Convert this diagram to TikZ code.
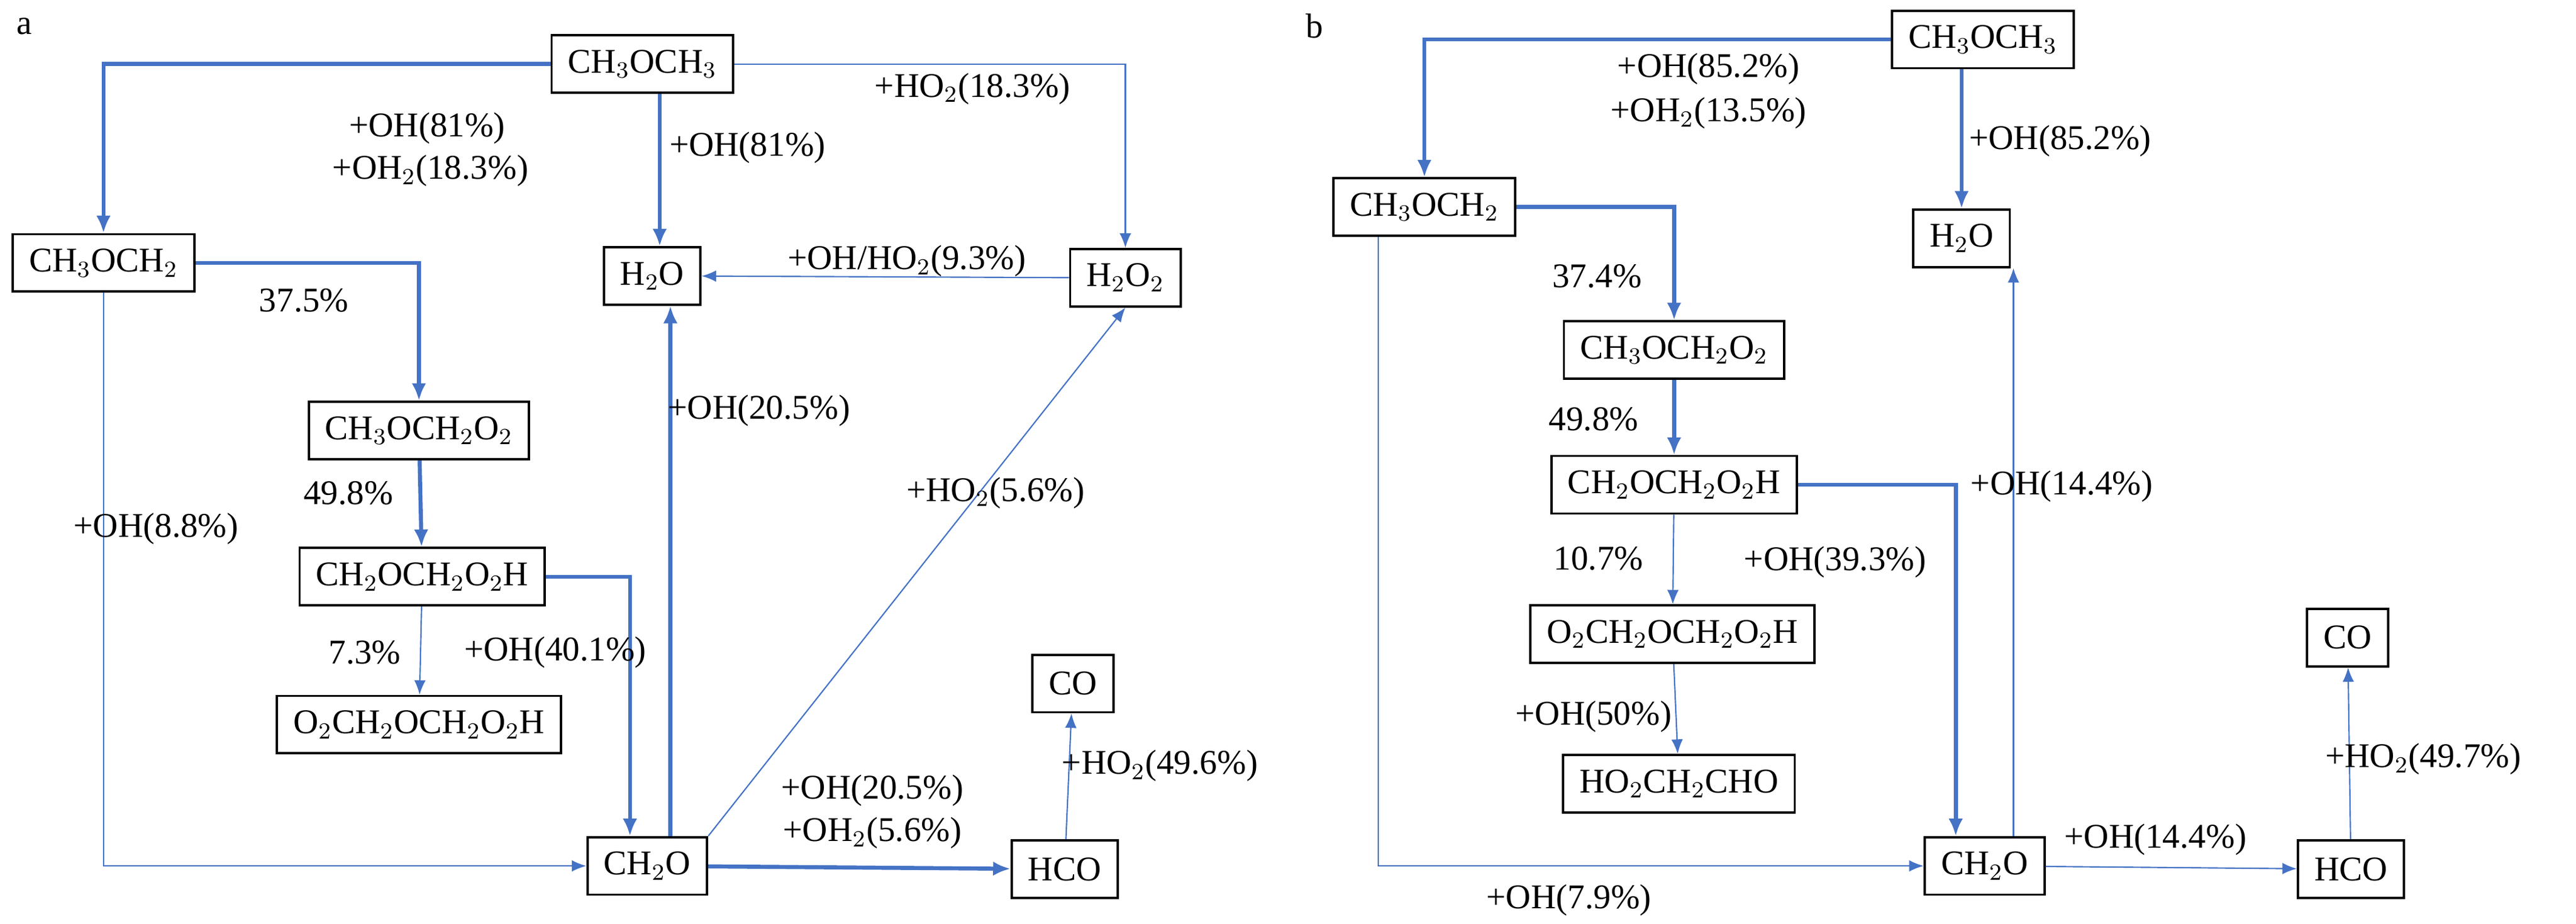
\documentclass[tikz,border=0pt]{standalone}
\usepackage{fontspec}
\setmainfont{Liberation Serif}
\usetikzlibrary{arrows.meta}
\definecolor{flow}{RGB}{68,114,196}
\tikzset{
  sp/.style={draw,thick,minimum height=0.7cm,inner xsep=0.2cm,font=\fontsize{12}{14}\selectfont},
  lab/.style={font=\fontsize{12}{14}\selectfont},
  major/.style={draw=flow,line width=1.4pt,-{Latex[length=6pt,width=5pt]}},
  minor/.style={draw=flow,line width=0.45pt,-{Latex[length=5pt,width=4pt]}}
}
\begin{document}
\begin{tikzpicture}[x=0.02cm,y=-0.02cm]
\useasboundingbox (0,0) rectangle (1568,562);
% panel a
\node[lab] at (15,16) {a};
\node[sp] (a1) at (391,39) {CH$_3$OCH$_3$};
\node[sp] (a2) at (63,160) {CH$_3$OCH$_2$};
\node[sp] (a3) at (397,168) {H$_2$O};
\node[sp] (a4) at (685,169) {H$_2$O$_2$};
\node[sp] (a5) at (255,262) {CH$_3$OCH$_2$O$_2$};
\node[sp] (a6) at (257,351) {CH$_2$OCH$_2$O$_2$H};
\node[sp] (a7) at (255,441) {O$_2$CH$_2$OCH$_2$O$_2$H};
\node[sp] (a8) at (653,416) {CO};
\node[sp] (a9) at (394,527) {CH$_2$O};
\node[sp] (a10) at (648,529) {HCO};
\draw[major] (a1.west) -| (a2.north);
\node[lab] at (260,78) {+OH(81\%)};
\node[lab] at (262,104) {+OH$_2$(18.3\%)};
\draw[minor] (a1.east) -| (a4.north);
\node[lab] at (592,54) {+HO$_2$(18.3\%)};
\draw[major] ([xshift=6pt]a1.south) -- ([xshift=6pt]a1.south |- a3.north);
\node[lab] at (455,90) {+OH(81\%)};
\draw[minor] (a4.west) -- (a3.east);
\node[lab] at (552,159) {+OH/HO$_2$(9.3\%)};
\draw[major] (a2.east) -| (a5.north);
\node[lab] at (185,183) {37.5\%};
\draw[minor] (a2.south) |- (a9.west);
\node[lab] at (95,322) {+OH(8.8\%)};
\draw[major] (a5) -- (a6);
\node[lab] at (212,300) {49.8\%};
\draw[major] (a6.east) -| ([xshift=-6pt]a9.north);
\node[lab] at (338,397) {+OH(40.1\%)};
\draw[minor] (a6) -- (a7);
\node[lab] at (222,397) {7.3\%};
\draw[major] ([xshift=8pt]a9.north) -- ([xshift=8pt]a9.north |- a3.south);
\node[lab] at (462,250) {+OH(20.5\%)};
\draw[minor] (a9.north east) -- (a4.south);
\node[lab] at (606,300) {+HO$_2$(5.6\%)};
\draw[major] (a9) -- (a10);
\node[lab] at (531,481) {+OH(20.5\%)};
\node[lab] at (531,507) {+OH$_2$(5.6\%)};
\draw[minor] (a10) -- (a8);
\node[lab] at (706,466) {+HO$_2$(49.6\%)};
% panel b
\node[lab] at (800,16) {b};
\node[sp] (b1) at (1207,24) {CH$_3$OCH$_3$};
\node[sp] (b2) at (867,126) {CH$_3$OCH$_2$};
\node[sp] (b3) at (1194,145) {H$_2$O};
\node[sp] (b4) at (1019,213) {CH$_3$OCH$_2$O$_2$};
\node[sp] (b5) at (1019,295) {CH$_2$OCH$_2$O$_2$H};
\node[sp] (b6) at (1018,386) {O$_2$CH$_2$OCH$_2$O$_2$H};
\node[sp] (b7) at (1022,477) {HO$_2$CH$_2$CHO};
\node[sp] (b8) at (1429,388) {CO};
\node[sp] (b9) at (1208,527) {CH$_2$O};
\node[sp] (b10) at (1431,529) {HCO};
\draw[major] (b1.west) -| (b2.north);
\node[lab] at (1040,42) {+OH(85.2\%)};
\node[lab] at (1040,69) {+OH$_2$(13.5\%)};
\draw[major] (b1.south -| b3) -- (b3.north);
\node[lab] at (1254,86) {+OH(85.2\%)};
\draw[major] (b2.east) -| (b4.north);
\node[lab] at (972,168) {37.4\%};
\draw[major] (b4) -- (b5);
\node[lab] at (970,255) {49.8\%};
\draw[major] (b5.east) -| ([xshift=-10pt]b9.north);
\node[lab] at (1117,342) {+OH(39.3\%)};
\draw[minor] (b5) -- (b6);
\node[lab] at (973,340) {10.7\%};
\draw[minor] (b6) -- (b7);
\node[lab] at (970,436) {+OH(50\%)};
\draw[minor] ([xshift=-16pt]b2.south) |- (b9.west);
\node[lab] at (955,548) {+OH(7.9\%)};
\draw[minor] ([xshift=10pt]b9.north) -- ([xshift=10pt]b9.north |- b3.south);
\node[lab] at (1255,296) {+OH(14.4\%)};
\draw[minor] (b9) -- (b10);
\node[lab] at (1312,511) {+OH(14.4\%)};
\draw[minor] (b10) -- (b8);
\node[lab] at (1475,462) {+HO$_2$(49.7\%)};
\end{tikzpicture}
\end{document}
